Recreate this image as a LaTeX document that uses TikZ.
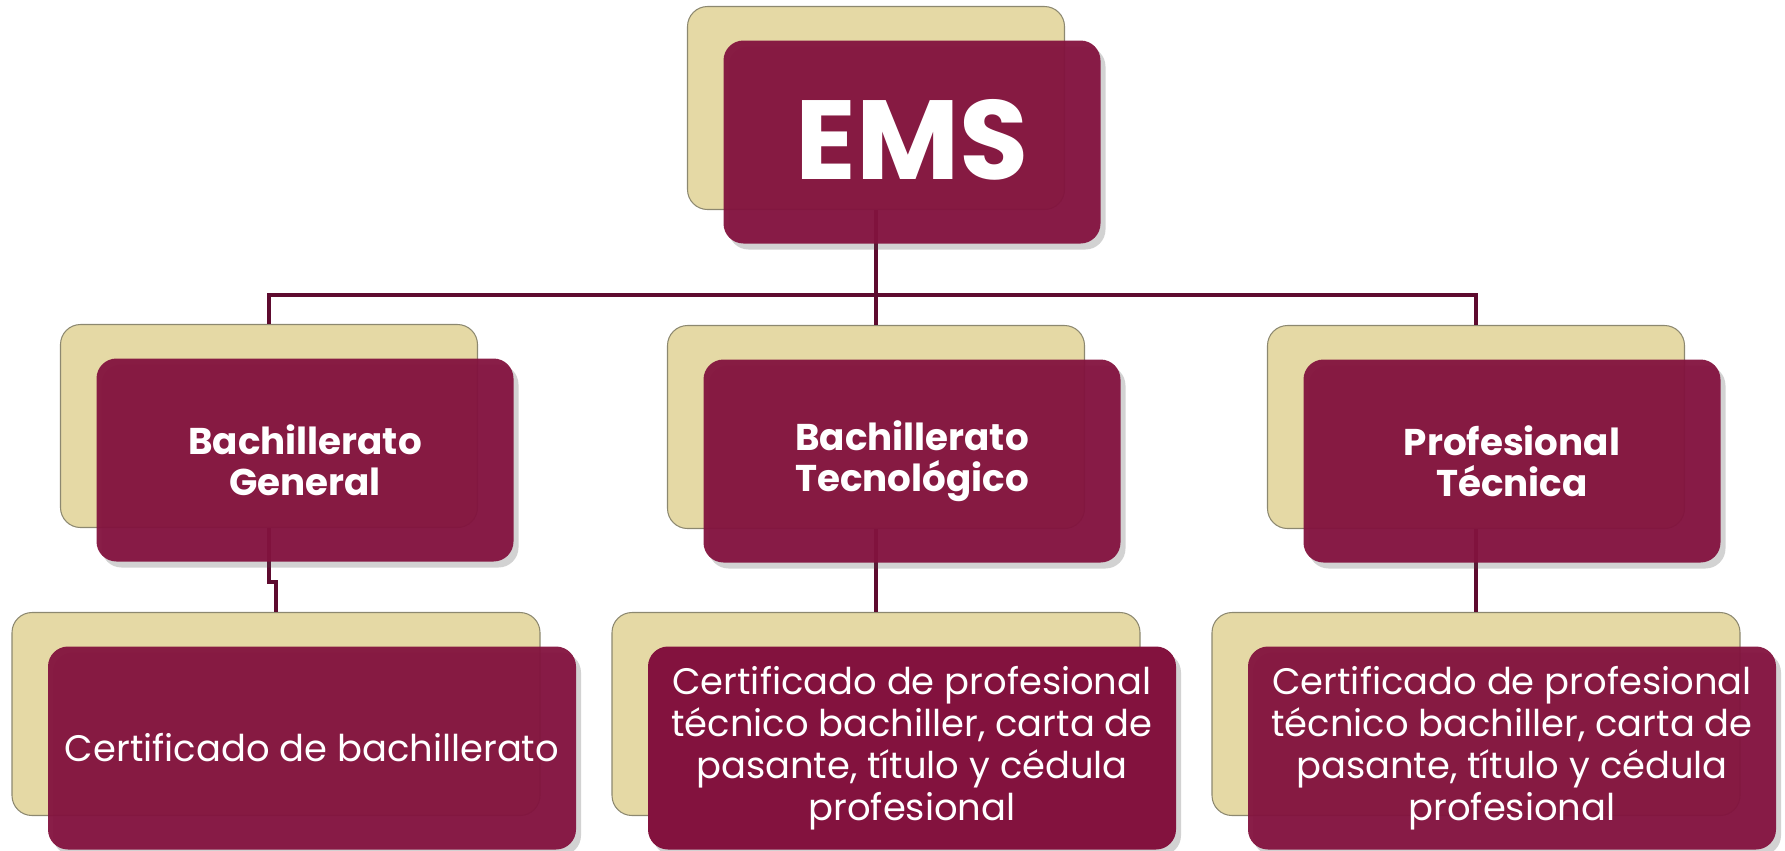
\documentclass[tikz,border=0pt]{standalone}
\usepackage{fontspec}
\setmainfont{Poppins}
\usetikzlibrary{shadows}

\definecolor{cardbeige}{RGB}{229,217,165}
\definecolor{cardedge}{RGB}{140,136,112}
\definecolor{cardwine}{RGB}{131,18,62}
\definecolor{linkwine}{RGB}{94,11,47}

\tikzset{
  backcard/.style={draw=cardedge, line width=0.3pt, fill=cardbeige,
    rounded corners=2mm, minimum width=#1, minimum height=20.3mm, inner sep=0pt},
  frontcard/.style={fill=cardwine, fill opacity=0.95, text opacity=1, text=white,
    rounded corners=2mm, minimum width=#1, minimum height=20.3mm, inner sep=0pt,
    align=center, drop shadow={shadow xshift=0.5mm, shadow yshift=-0.6mm, opacity=0.25, fill=black!70}},
  link/.style={draw=linkwine, line width=1.1pt},
  headfont/.style={font=\fontsize{32}{38}\selectfont\bfseries},
  typefont/.style={font=\fontsize{10.6}{11.7}\selectfont\bfseries},
  docfont/.style={font=\fontsize{10.5}{12}\selectfont}
}

\begin{document}
\begin{tikzpicture}[x=0.1mm, y=-0.1mm]
			\useasboundingbox (0,0) rectangle (1785,850);
			% back cards
			\node[backcard=37.7mm] (ems-b) at (876,108) {};
			\node[backcard=41.7mm] (bg-b) at (269,426) {};
			\node[backcard=41.7mm] (bt-b) at (876,427) {};
			\node[backcard=41.7mm] (pt-b) at (1476,427) {};
			\node[backcard=52.8mm] (cbg-b) at (276,714) {};
			\node[backcard=52.8mm] (cbt-b) at (876,714) {};
			\node[backcard=52.8mm] (cpt-b) at (1476,714) {};
			% links
			\coordinate (bus) at (876,295);
			\draw[link] (ems-b.south) -- (bus);
			\draw[link] (bg-b.north) |- (bus) -| (pt-b.north);
			\draw[link] (bus) -- (bt-b.north);
			\draw[link] (bg-b.south) -- ++(0,54) -| (cbg-b.north);
			\draw[link] (bt-b.south) -- (cbt-b.north);
			\draw[link] (pt-b.south) -- (cpt-b.north);
			% front cards
			\node[frontcard=37.7mm, headfont] (ems) at (912,142) {\raisebox{0.6mm}{EMS}};
			\node[frontcard=41.7mm, typefont] (bg) at (305,460) {Bachillerato\\General};
			\node[frontcard=41.7mm, typefont] (bt) at (912,461) {Bachillerato\\Tecnológico};
			\node[frontcard=41.7mm, typefont] (pt) at (1512,461) {Profesional\\Técnica};
			\node[frontcard=52.8mm, docfont] (cbg) at (312,748) {Certificado de bachillerato};
			\node[frontcard=52.8mm, docfont, fill opacity=1] (cbt) at (912,748) {Certificado de profesional\\técnico bachiller, carta de\\pasante, título y cédula\\profesional};
			\node[frontcard=52.8mm, docfont] (cpt) at (1512,748) {Certificado de profesional\\técnico bachiller, carta de\\pasante, título y cédula\\profesional};
		\end{tikzpicture}
\end{document}
